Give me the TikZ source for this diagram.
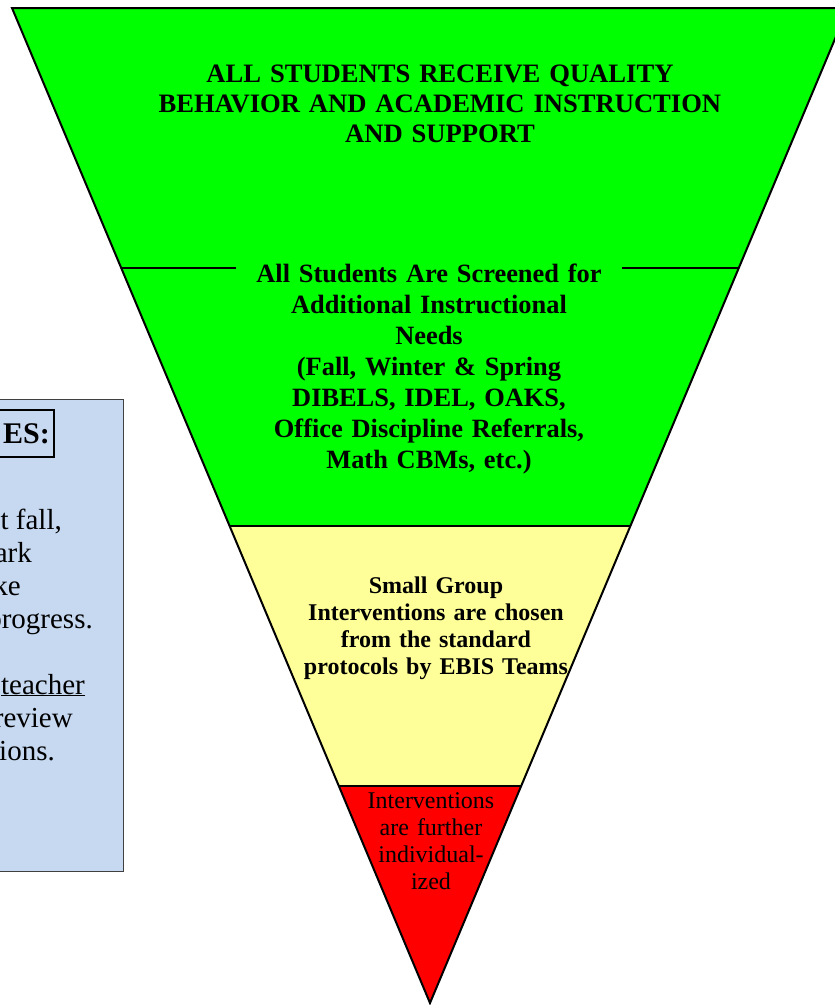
\documentclass[tikz,border=0pt]{standalone}
\usepackage{fontspec}
\setmainfont{Liberation Serif}
\definecolor{tgreen}{HTML}{00FF00}
\definecolor{tyellow}{HTML}{FFFF99}
\definecolor{tred}{HTML}{FF0000}
\definecolor{nblue}{HTML}{C6D9F1}
\definecolor{nborder}{HTML}{404040}
\begin{document}
\begin{tikzpicture}[x=1pt,y=-1pt,
  outline/.style={draw=black,line width=2pt,line join=miter},
  band/.style={draw=black,line width=1.8pt},
  divider/.style={draw=black,line width=2pt},
  toptext/.style={font=\bfseries\fontsize{26.6}{30}\selectfont,align=center,text width=600pt,inner sep=0pt},
  screentext/.style={font=\bfseries\fontsize{26.4}{31}\selectfont,align=center,text width=366pt,fill=tgreen,inner xsep=10pt,inner ysep=6pt},
  yellowtext/.style={font=\bfseries\fontsize{24}{27}\selectfont,align=center,text width=300pt,inner sep=0pt},
  redtext/.style={font=\fontsize{24}{27.3}\selectfont,align=center,text width=160pt,inner sep=0pt},
  notebox/.style={draw=nborder,fill=nblue,line width=1pt,inner sep=0pt},
  notehead/.style={draw=black,line width=1.5pt,font=\bfseries\fontsize{30}{34}\selectfont,text width=100pt,align=right,inner xsep=4pt,minimum height=47pt},
  notetext/.style={font=\fontsize{29}{33}\selectfont,inner sep=0pt,anchor=base east}
]
\useasboundingbox (0,0) rectangle (835,1005);
\clip (0,0) rectangle (835,1005);
% triangle geometry
\coordinate (TL) at (12,8);
\coordinate (TR) at (848,8);
\coordinate (A) at (430,1003);
\coordinate (L1) at (121.2,268);
\coordinate (R1) at (738.8,268);
\coordinate (L2) at (229.6,526);
\coordinate (R2) at (630.4,526);
\coordinate (L3) at (338.8,786);
\coordinate (R3) at (521.2,786);
\fill[tgreen] (TL) -- (TR) -- (R2) -- (L2) -- cycle;
\fill[tyellow] (L2) -- (R2) -- (R3) -- (L3) -- cycle;
\fill[tred] (L3) -- (R3) -- (A) -- cycle;
\draw[band] (L2) -- (R2);
\draw[band] (L3) -- (R3);
\draw[divider] (L1) -- (R1);
\draw[outline] (TL) -- (TR) -- (A) -- cycle;
% texts in the triangle
\node[toptext,anchor=base] (top) at (440,82) {ALL STUDENTS RECEIVE QUALITY\\BEHAVIOR AND ACADEMIC INSTRUCTION\\AND SUPPORT};
\node[screentext,anchor=base] (screen) at (429,282) {All Students Are Screened for\\Additional Instructional\\Needs\\(Fall, Winter \& Spring\\DIBELS, IDEL, OAKS,\\Office Discipline Referrals,\\Math CBMs, etc.)};
\node[yellowtext,anchor=base] (small) at (436,593) {Small Group\\Interventions are chosen\\from the standard\\protocols by EBIS Teams};
\node[redtext,anchor=base] (indiv) at (431,808) {Interventions\\are further\\individual-\\ized};
% notes box at left
\node[notebox,minimum width=150pt,minimum height=472pt,anchor=north east] (notes) at (124,399) {};
\node[notehead,anchor=east] (head) at (54.5,433.5) {ES:};
\node[notetext] (n1) at (62,529) {t fall,};
\node[notetext] (n2) at (32,562) {ark};
\node[notetext] (n3) at (21,595) {ke};
\node[notetext] (n4) at (93,628) {progress.};
\node[notetext] (n5) at (85,694) {\underline{teacher}};
\node[notetext] (n6) at (73,727) {review};
\node[notetext] (n7) at (55,760) {tions.};
\end{tikzpicture}
\end{document}
